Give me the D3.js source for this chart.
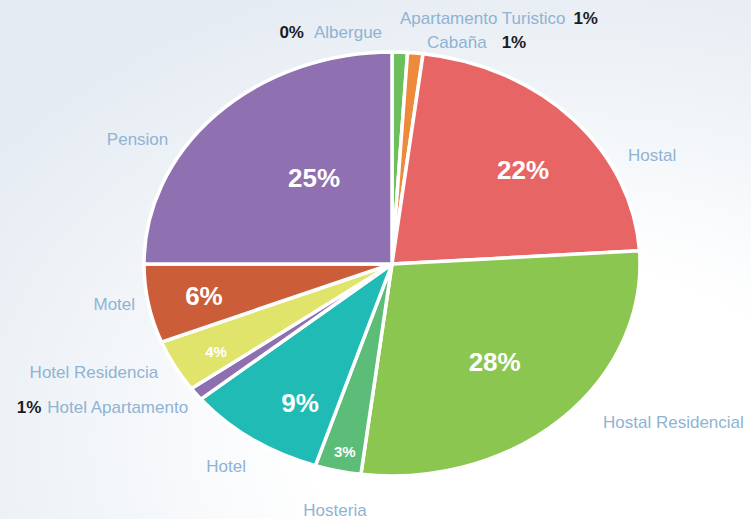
<!DOCTYPE html>
<html>
<head>
<meta charset="utf-8">
<script src="https://cdn.jsdelivr.net/npm/d3@7"></script>
<style>
  body { margin: 0; background: #fff; }
  svg { display: block; }
</style>
</head>
<body>
<svg id="pie"></svg>
<script>
// chart data
var categories = ["Albergue", "Apartamento Turistico", "Cabaña", "Hostal", "Hostal Residencial",
  "Hosteria", "Hotel", "Hotel Apartamento", "Hotel Residencia", "Motel", "Pension"];
var values = [0, 1, 1, 22, 28, 3, 9, 1, 4, 6, 25];
var colors = ["#6cbf5b", "#6cbf5b", "#ee8a3c", "#e76565", "#8bc651",
  "#5bbd78", "#1fbbb4", "#8e6fb0", "#e1e46b", "#cb5e39", "#8f70b0"];

// where each text sits: angle (deg, clockwise from top) and radius as fraction of the pie
var nameLayout = [
  {a: 357.9, r: 1.095, anchor: "end", pct: "before", gap: 10},
  {a: 1.6, r: 1.161, anchor: "start", pct: "after", gap: 8},
  {a: 7.7, r: 1.056, anchor: "start", pct: "after", gap: 15},
  {a: 61.6, r: 1.082, anchor: "start"},
  {a: 131.2, r: 1.131, anchor: "start"},
  {a: 191.2, r: 1.183, anchor: "middle"},
  {a: 211.7, r: 1.12, anchor: "end"},
  {a: 230.6, r: 1.064, anchor: "end", pct: "before", gap: 6},
  {a: 241.6, r: 1.072, anchor: "end"},
  {a: 259.7, r: 1.053, anchor: "end"},
  {a: 303.2, r: 1.078, anchor: "end"}
];
var innerLayout = [null, null, null,
  {a: 50, r: 0.69, size: 26},
  {a: 138.1, r: 0.62, size: 26},
  {a: 192.1, r: 0.907, size: 15},
  {a: 209.5, r: 0.753, size: 26},
  null,
  {a: 239.7, r: 0.822, size: 15},
  {a: 258.8, r: 0.773, size: 26},
  {a: 322.2, r: 0.513, size: 26}
];

var width = 751, height = 519;
var cx = 392, cy = 264, rx = 248, ry = 212;

var svg = d3.select("#pie")
  .attr("width", width)
  .attr("height", height);

// soft background
var defs = svg.append("defs");
var grad = defs.append("radialGradient")
  .attr("id", "bg")
  .attr("cx", "0.75").attr("cy", "0.85").attr("r", "0.95");
grad.append("stop").attr("offset", "0.35").attr("stop-color", "#ffffff");
grad.append("stop").attr("offset", "1").attr("stop-color", "#e4ebf2");

svg.append("rect")
  .attr("width", width)
  .attr("height", height)
  .attr("fill", "url(#bg)");

var data = categories.map(function(c, i) {
  return {name: c, value: values[i], color: colors[i], i: i};
});

var pie = d3.pie()
  .sort(null)
  .value(function(d) { return d.value; });

var arc = d3.arc()
  .innerRadius(0)
  .outerRadius(rx);

// pie is drawn as a circle and squashed into an ellipse
var g = svg.append("g")
  .attr("transform", "translate(" + cx + "," + cy + ") scale(1," + (ry / rx) + ")");

g.selectAll("path")
  .data(pie(data).filter(function(d) { return d.data.value > 0; }))
  .enter()
  .append("path")
  .attr("d", arc)
  .attr("fill", function(d) { return d.data.color; })
  .attr("stroke", "#ffffff")
  .attr("stroke-width", 3.5)
  .attr("stroke-linejoin", "round")
  .attr("vector-effect", "non-scaling-stroke");

function place(a, r) {
  var t = a * Math.PI / 180;
  return [cx + Math.sin(t) * rx * r, cy - Math.cos(t) * ry * r];
}

var font = "Arial, 'Liberation Sans', Helvetica, sans-serif";

// percentages inside the slices
data.forEach(function(d, i) {
  var l = innerLayout[i];
  if (!l) return;
  var p = place(l.a, l.r);
  svg.append("text")
    .attr("x", p[0])
    .attr("y", p[1])
    .attr("dy", "0.36em")
    .attr("text-anchor", "middle")
    .style("font-family", font)
    .style("font-weight", "bold")
    .style("font-size", l.size + "px")
    .style("fill", "#ffffff")
    .text(d.value + "%");
});

// category names round the pie
data.forEach(function(d, i) {
  var l = nameLayout[i];
  var p = place(l.a, l.r);
  var t = svg.append("text")
    .attr("x", p[0])
    .attr("y", p[1])
    .attr("dy", "0.36em")
    .attr("text-anchor", l.anchor)
    .style("font-family", font)
    .style("font-size", "17px")
    .style("fill", "#8fb3d3");
  if (l.pct == "before") {
    t.append("tspan").style("font-weight", "bold").style("fill", "#1b1b24").text(d.value + "%");
    t.append("tspan").attr("dx", l.gap).text(d.name);
  } else if (l.pct == "after") {
    t.append("tspan").text(d.name);
    t.append("tspan").attr("dx", l.gap).style("font-weight", "bold").style("fill", "#1b1b24").text(d.value + "%");
  } else {
    t.text(d.name);
  }
});
</script>
</body>
</html>
